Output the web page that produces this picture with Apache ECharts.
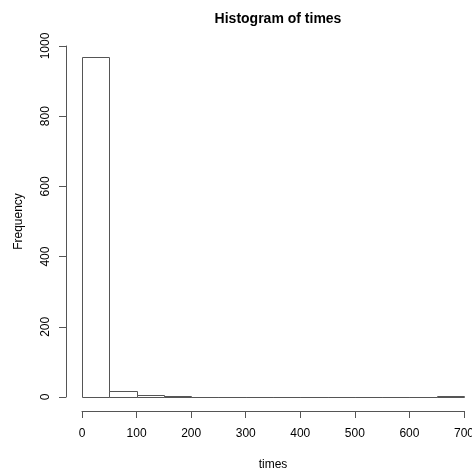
<!DOCTYPE html>
<html>
<head>
<meta charset="utf-8">
<script src="https://cdn.jsdelivr.net/npm/echarts@6/dist/echarts.min.js"></script>
<style>html,body{margin:0;padding:0;background:#fff;}#c{width:472px;height:473px;}</style>
</head>
<body>
<div id="c"></div>
<script>
var binStarts = [0, 50, 100, 150, 200, 250, 300, 350, 400, 450, 500, 550, 600, 650];
var binWidth = 50;
var counts = [970, 18, 6, 3, 0, 0, 0, 0, 0, 0, 0, 0, 0, 3];
var xTicks = [0, 100, 200, 300, 400, 500, 600, 700];
var yTicks = [0, 200, 400, 600, 800, 1000];

var data = binStarts.map(function (s, i) { return [s, s + binWidth, counts[i]]; });
var font = 'Liberation Sans, Arial, sans-serif';
var lineCol = '#555';

var chart = echarts.init(document.getElementById('c'), null, {renderer: 'canvas'});
chart.setOption({
  backgroundColor: '#fff',
  animation: false,
  title: {
    text: 'Histogram of times',
    left: 273, top: 7, textAlign: 'center',
    textStyle: {fontFamily: font, fontSize: 14, fontWeight: 'bold', color: '#000'}
  },
  grid: {left: 82, right: 8, top: 46, bottom: 76, containLabel: false, outerBoundsMode: 'none'},
  xAxis: {
    type: 'value', min: 0, max: 700, interval: 100, offset: 14,
    name: 'times', nameLocation: 'middle', nameGap: 48,
    nameTextStyle: {fontFamily: font, fontSize: 12, color: '#000'},
    axisLine: {show: true, onZero: false, lineStyle: {color: lineCol, width: 1}},
    axisTick: {show: true, length: 7, lineStyle: {color: lineCol}},
    axisLabel: {fontFamily: font, fontSize: 12, color: '#000', margin: 17,
      formatter: function (v) { return xTicks.indexOf(v) >= 0 ? String(v) : ''; }},
    splitLine: {show: false}
  },
  yAxis: {
    type: 'value', min: 0, max: 1000, interval: 200, offset: 16,
    name: 'Frequency', nameLocation: 'middle', nameGap: 41,
    nameTextStyle: {fontFamily: font, fontSize: 12, color: '#000'},
    axisLine: {show: true, onZero: false, lineStyle: {color: lineCol, width: 1}},
    axisTick: {show: true, length: 7, lineStyle: {color: lineCol}},
    axisLabel: {fontFamily: font, fontSize: 12, color: '#000', margin: 14, rotate: 90,
      formatter: function (v) { return yTicks.indexOf(v) >= 0 ? String(v) : ''; }},
    splitLine: {show: false}
  },
  series: [{
    type: 'custom',
    data: data,
    encode: {x: [0, 1], y: 2},
    renderItem: function (params, api) {
      var p0 = api.coord([api.value(0), api.value(2)]);
      var p1 = api.coord([api.value(1), 0]);
      var x = Math.round(p0[0]) + 0.5, x2 = Math.round(p1[0]) + 0.5;
      var y = Math.round(p0[1]) + 0.5, y2 = Math.round(p1[1]) + 0.5;
      return {
        type: 'rect',
        shape: {x: x, y: y, width: x2 - x, height: y2 - y},
        style: {fill: '#fff', stroke: lineCol, lineWidth: 1}
      };
    }
  }]
});
</script>
</body>
</html>
